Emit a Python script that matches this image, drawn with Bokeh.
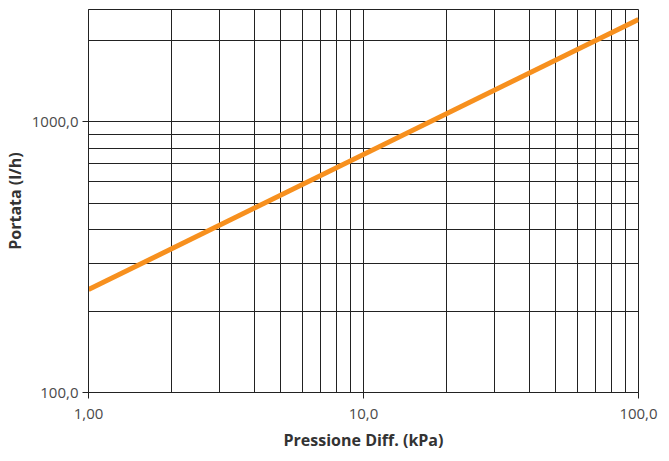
from bokeh.plotting import figure
from bokeh.models import FixedTicker, Range1d
from bokeh.embed import file_html
from bokeh.resources import INLINE

# data
pressure_kpa = [1.0, 100.0]
flow_lh = [240.0, 2390.0]

x_major = [1, 10, 100]
x_labels = {1: "1,00", 10: "10,0", 100: "100,0"}
y_major = [100, 1000]
y_labels = {100: "100,0", 1000: "1000,0"}
x_grid = [1, 2, 3, 4, 5, 6, 7, 8, 9, 10, 20, 30, 40, 50, 60, 70, 80, 90, 100]
y_grid = [100, 200, 300, 400, 500, 600, 700, 800, 900, 1000, 2000]

p = figure(frame_width=550, frame_height=383, x_axis_type="log", y_axis_type="log",
           x_range=Range1d(1, 100), y_range=Range1d(100, 2600),
           output_backend="svg", toolbar_location=None,
           min_border_left=88, min_border_top=9, min_border_right=23, min_border_bottom=61)

p.line(pressure_kpa, flow_lh, line_color="#F7901E", line_width=5)

p.xaxis.ticker = FixedTicker(ticks=x_major)
p.yaxis.ticker = FixedTicker(ticks=y_major)
p.xaxis.major_label_overrides = x_labels
p.yaxis.major_label_overrides = y_labels
p.xgrid.ticker = FixedTicker(ticks=x_grid)
p.ygrid.ticker = FixedTicker(ticks=y_grid)
for g in (p.xgrid, p.ygrid):
    g.grid_line_color = "#222222"
    g.grid_line_width = 1
    g.grid_line_alpha = 1.0

for ax in (p.xaxis, p.yaxis):
    ax.axis_line_color = "#222222"
    ax.major_tick_line_color = "#222222"
    ax.major_tick_out = 6
    ax.major_tick_in = 0
    ax.minor_tick_line_color = None
    ax.major_label_text_font = "Open Sans"
    ax.major_label_text_font_size = "15px"
    ax.major_label_text_color = "#4a4a4a"
    ax.axis_label_text_font = "Open Sans"
    ax.axis_label_text_font_size = "16px"
    ax.axis_label_text_font_style = "bold"
    ax.axis_label_text_color = "#333333"

p.xaxis.axis_label = "Pressione Diff. (kPa)"
p.yaxis.axis_label = "Portata (l/h)"
p.xaxis.major_label_standoff = 10
p.yaxis.major_label_standoff = 4
p.xaxis.axis_label_standoff = 7
p.yaxis.axis_label_standoff = 3

p.outline_line_color = "#222222"
p.outline_line_alpha = 1.0
p.background_fill_color = "white"
p.border_fill_color = "white"

open("out.html", "w").write(file_html(p, INLINE))
